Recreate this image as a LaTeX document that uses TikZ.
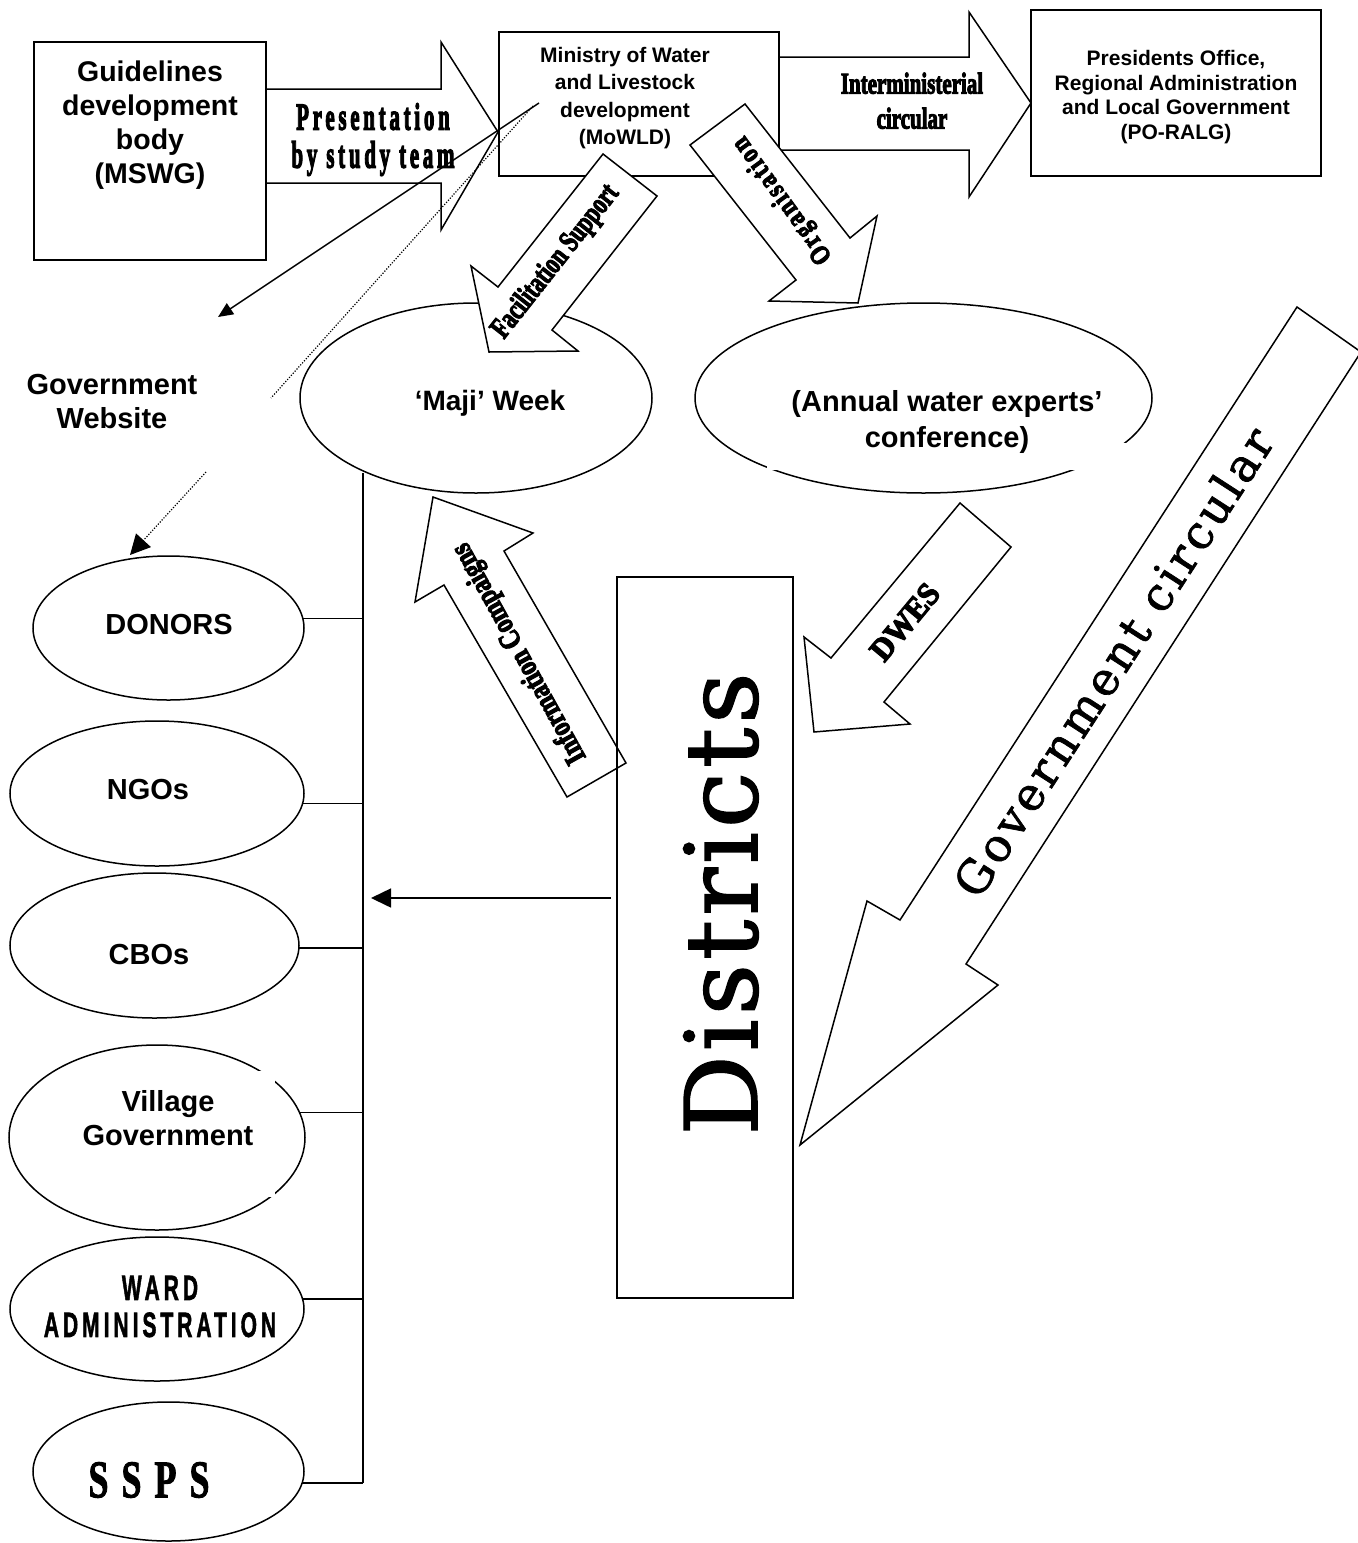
\documentclass[tikz,border=0pt]{standalone}
\usepackage{graphicx}
\usepackage{fontspec}
\usetikzlibrary{arrows.meta,shapes.geometric,calc}
\setmainfont{Liberation Sans}
\newfontfamily\hvyserif[FakeBold=4]{Liberation Serif}
\newfontfamily\hvyserifsp[FakeBold=4,LetterSpace=18]{Liberation Serif}
\newfontfamily\hvyserifspb[FakeBold=4,LetterSpace=10]{Liberation Serif}
\newfontfamily\serifsp[FakeBold=2,LetterSpace=36]{Liberation Serif}
\newfontfamily\sanssp[FakeBold=2,LetterSpace=19]{Liberation Sans}
\newfontfamily\dejad[FakeBold=1.5,LetterSpace=4]{DejaVu Serif}
\newfontfamily\dejag[FakeBold=1.5,LetterSpace=8]{DejaVu Serif}
\begin{document}
\begin{tikzpicture}[x=1pt,y=-1pt,
  box/.style={draw, line width=1.8pt, inner sep=0pt, outer sep=0pt},
  oval/.style={draw, ellipse, line width=1.5pt, inner sep=0pt, outer sep=0pt},
  barrow/.style={draw, fill=white, line width=1.5pt},
  conn/.style={line width=1.5pt},
  dotline/.style={line width=1.2pt, dash pattern=on 1.2pt off 1.6pt},
  sanslbl/.style={inner sep=0pt, align=center, font=\bfseries\fontsize{29}{34}\selectfont},
  smalllbl/.style={inner sep=0pt, align=center, font=\bfseries\fontsize{21}{27.3}\selectfont},
  arrowlbl/.style={inner sep=0pt}
]
\useasboundingbox (0,0) rectangle (1358,1543);
\fill[white] (0,0) rectangle (1358,1543);
\clip (0,0) rectangle (1358,1543);

% ---- top boxes
\node[box, minimum width=232pt, minimum height=218pt] (mswg) at (150,151) {};
\node[box, minimum width=280pt, minimum height=144pt] (mowld) at (639,104) {};
\node[box, minimum width=290pt, minimum height=166pt] (poralg) at (1176,93) {};

% ---- horizontal block arrows
\draw[barrow] (266,89) -- (441,89) -- (441,42) -- (498,132) -- (441,230) -- (441,183) -- (266,183) -- cycle;
\draw[barrow] (779,57) -- (969,57) -- (969,12) -- (1031,103) -- (969,197) -- (969,150) -- (779,150) -- cycle;

% ---- event ellipses
\node[oval, minimum width=352pt, minimum height=190pt] (maji) at (476,398) {};
\node[oval, minimum width=457pt, minimum height=190pt] (annual) at (923.5,398) {};
\fill[white] (767,443) rectangle (1128,470);

% ---- diagonal block arrows from the ministry
\draw[barrow] (603,154) -- (657,196) -- (552,330) -- (578,351) -- (489,352) -- (471,266) -- (498,287) -- cycle;
\draw[barrow] (745,104) -- (690,145) -- (796,280) -- (769,301) -- (858,303) -- (877,216) -- (850,238) -- cycle;

% ---- stakeholder ellipses
\node[oval, minimum width=271pt, minimum height=144pt] (donors) at (168.5,628) {};
\node[oval, minimum width=294pt, minimum height=145pt] (ngos) at (157,793.5) {};
\node[oval, minimum width=289pt, minimum height=145pt] (cbos) at (154.5,945.5) {};
\node[oval, minimum width=296pt, minimum height=185pt] (village) at (157,1137.5) {};
\fill[white] (70,1071) rectangle (275,1197);
\node[oval, minimum width=294pt, minimum height=144pt] (ward) at (157,1309) {};
\node[oval, minimum width=271pt, minimum height=139pt] (ssps) at (168.5,1471.5) {};

% ---- bus
\coordinate (bustop) at (363,473);
\coordinate (busbot) at (363,1483);
\draw[conn] (bustop) -- (busbot);
\draw[conn] (donors.4) -- (donors.4 -| bustop);
\draw[conn] (ngos.-4) -- (ngos.-4 -| bustop);
\draw[conn] (cbos.-1) -- (cbos.-1 -| bustop);
\draw[conn] (village.10) -- (village.10 -| bustop);
\draw[conn] (ward.4) -- (ward.4 -| bustop);
\draw[conn] (ssps.-5) -- (ssps.-5 -| bustop);

% ---- lower block arrows
\draw[barrow] (433,497) -- (533,533) -- (504,551) -- (626,763) -- (567,797) -- (444,585) -- (415,602) -- cycle;
\draw[barrow] (960,503) -- (1011,547) -- (884,702) -- (910,724) -- (814,732) -- (804,637) -- (831,658) -- cycle;
\draw[barrow] (1297,307) -- (1361,352) -- (966,964) -- (998,985) -- (800,1145) -- (867,901) -- (900,920) -- cycle;

% ---- districts
\node[box, minimum width=176pt, minimum height=721pt] (districts) at (705,937.5) {};
\node[rotate=90, anchor=base, inner sep=0pt, font=\dejad\fontsize{100}{100}\selectfont] (distT) at (757,904) {Districts};
\coordinate (dstart) at (611,898);
\coordinate (dend) at (371,898);
\draw[conn, -{Triangle[length=20pt,width=19pt]}] (dstart) -- (dend);

% ---- box and ellipse texts
\node[sanslbl, font=\bfseries\fontsize{28.5}{34}\selectfont] (mswgT) at (150,125) {Guidelines\\development\\body\\(MSWG)};
\node[smalllbl] (mowldT) at (625,98) {Ministry of Water\\and Livestock\\development\\(MoWLD)};
\node[smalllbl, font=\bfseries\fontsize{21}{24.7}\selectfont] (poralgT) at (1176,97) {Presidents Office,\\Regional Administration\\and Local Government\\(PO-RALG)};
\node[sanslbl] (websiteT) at (112,402) {Government\\Website};
\node[sanslbl, font=\bfseries\fontsize{28}{34}\selectfont] (majiT) at (490,403) {‘Maji’ Week};
\node[sanslbl, font=\bfseries\fontsize{29}{36}\selectfont] (annualT) at (947,422) {(Annual water experts’\\conference)};
\node[sanslbl] (donorsT) at (169,625) {DONORS};
\node[sanslbl] (ngosT) at (148,790) {NGOs};
\node[sanslbl] (cbosT) at (149,955) {CBOs};
\node[sanslbl] (villageT) at (168,1118) {Village\\Government};
\node[arrowlbl] (wardT) at (160,1311) {\scalebox{0.6}[1]{\sanssp\bfseries\fontsize{35}{37}\selectfont\begin{tabular}{@{}c@{}}WARD\\ADMINISTRATION\end{tabular}}};
\node[arrowlbl] (sspsT) at (149,1480) {\scalebox{0.68}[1]{\serifsp\bfseries\fontsize{53}{53}\selectfont SSPS}};

% ---- arrow labels
\node[arrowlbl] (presT) at (373,141) {\scalebox{0.55}[1]{\hvyserifsp\bfseries\fontsize{38}{38}\selectfont\begin{tabular}{@{}c@{}}Presentation\\by study team\end{tabular}}};
\node[arrowlbl] (interT) at (912,104) {\scalebox{0.7}[1]{\hvyserif\bfseries\fontsize{30}{35}\selectfont\begin{tabular}{@{}c@{}}Interministerial\\circular\end{tabular}}};
\node[arrowlbl, rotate=51.7] (facT) at (556,262) {\scalebox{0.72}[1]{\hvyserif\bfseries\fontsize{30}{30}\selectfont Facilitation Support}};
\node[arrowlbl, rotate=126] (orgT) at (783,200) {\scalebox{0.8}[1]{\hvyserifspb\bfseries\fontsize{28}{28}\selectfont Organisation}};
\node[arrowlbl, rotate=119] (infoT) at (520,653) {\scalebox{0.8}[1]{\hvyserif\bfseries\fontsize{30}{30}\selectfont Information Compaigns}};
\node[arrowlbl, rotate=50.2] (dwesT) at (905,622) {\scalebox{0.95}[1]{\hvyserif\bfseries\fontsize{32}{32}\selectfont DWES}};
\node[arrowlbl, rotate=57.1] (govT) at (1113,662) {\dejag\fontsize{46}{46}\selectfont Government circular};

% ---- website links
\coordinate (wsstart) at (539,103);
\coordinate (wsend) at (218,317);
\draw[conn, -{Triangle[length=15pt,width=13pt]}] (wsstart) -- (wsend);
\coordinate (dotstart) at (533,106);
\coordinate (dotgap1) at (271,398);
\coordinate (dotgap2) at (206,472);
\coordinate (dotend) at (130,555);
\draw[dotline] (dotstart) -- (dotgap1);
\draw[dotline, -{Triangle[length=20pt,width=20pt]}] (dotgap2) -- (dotend);
\end{tikzpicture}
\end{document}
